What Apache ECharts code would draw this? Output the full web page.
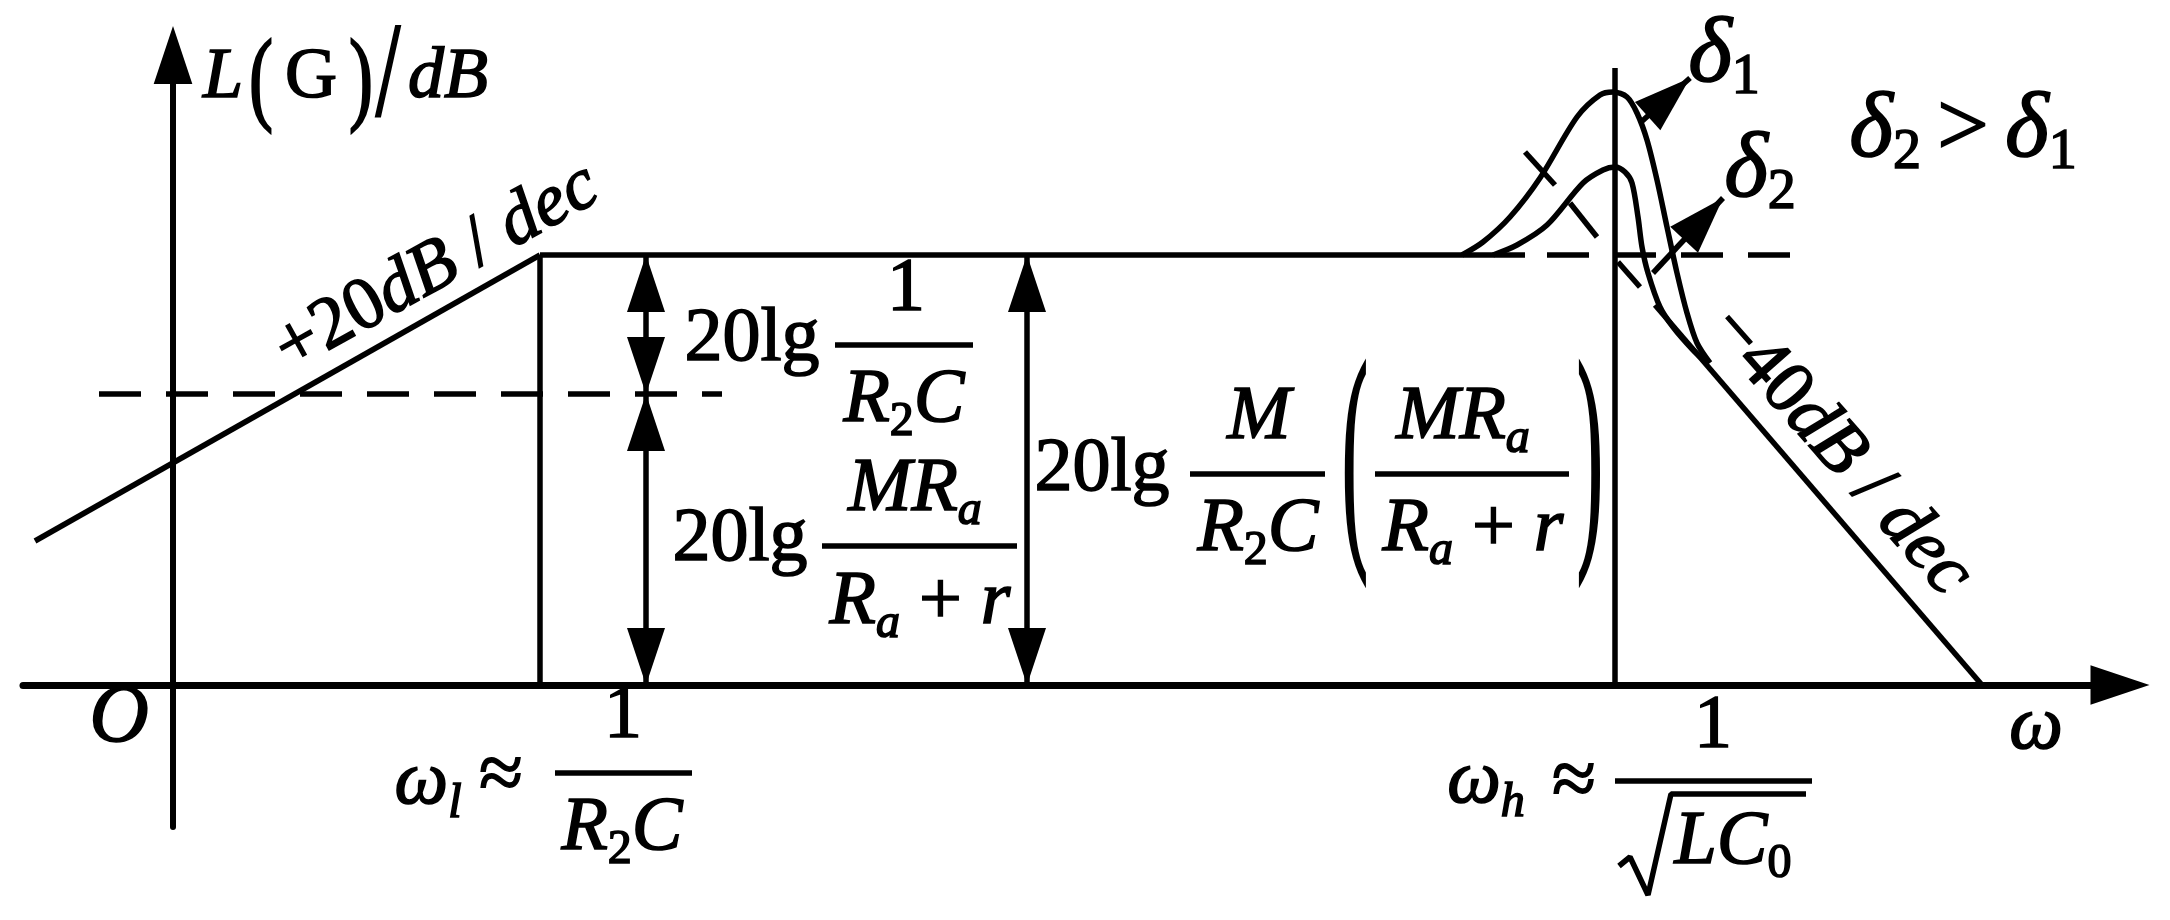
<!DOCTYPE html>
<html>
<head>
<meta charset="utf-8">
<script src="https://cdn.jsdelivr.net/npm/echarts@6/dist/echarts.min.js"></script>
<style>
  html, body { margin: 0; padding: 0; background: #fff; }
  #main { width: 2170px; height: 920px; }
</style>
</head>
<body>
<div id="main"></div>
<script>
// diagram units: x = frequency position (O at 0), y = gain level (omega axis at 0)
var lowSlope = [[-138, 144], [367, 430]];
var passBand = [[367, 430], [1352, 430]];
var omegaLLine = [[367, 0], [367, 430]];
var omegaHLine = [[1442, 0], [1442, 617]];
var lowLevel = [[-74, 291], [549, 291]];
var highLevel = [[1374, 430], [1617, 430]];
var highSlopeDash = [[1445, 423], [1467, 398]];
var highSlope = [[1482, 380], [1809, 0]];

// resonance curves near omega_h
var delta1 = [[1289, 430], [1310, 443], [1337, 468], [1367, 507], [1404, 568], [1427, 590], [1440, 593],
  [1454, 588], [1464, 572], [1474, 545], [1484, 505], [1494, 458], [1504, 412], [1514, 372], [1524, 342], [1537, 322]];
var delta2 = [[1320, 430], [1344, 440], [1374, 460], [1410, 502], [1430, 515], [1442, 518], [1452, 513],
  [1459, 502], [1465, 468], [1469, 438], [1475, 412], [1487, 378], [1500, 358], [1520, 335], [1534, 322]];
var tick1 = [[1352, 533], [1382, 500]];
var tick2 = [[1397, 482], [1424, 448]];

// arrows: x1, y1, x2 (tip), y2 (tip), heads
var dimArrows = [[473, 430, 473, 291, 2], [473, 291, 473, 0, 2], [854, 430, 854, 0, 2]];
var deltaArrows = [[1467, 562, 1517, 607, 1], [1480, 412, 1550, 487, 1]];

var FONT = 'Liberation Serif';
var LW = 5.5;

function rs(size, italic, extra) {
  return Object.assign({
    fontFamily: FONT, fontSize: size, fontStyle: italic ? 'italic' : 'normal',
    lineHeight: 90, verticalAlign: 'middle', fill: '#000', stroke: '#000', lineWidth: 1.6
  }, extra || {});
}

var RICH = {
  r: rs(76, false),
  i: rs(76, true),
  ap: rs(80, false),
  gt: rs(92, false, { lineHeight: 100, padding: [0, 16, 0, 16] }),
  s: rs(48, false, { lineHeight: 38, verticalAlign: 'bottom' }),
  si: rs(48, true, { lineHeight: 38, verticalAlign: 'bottom' }),
  g: rs(94, true, { lineHeight: 100 }),
  gs: rs(56, false, { lineHeight: 46, verticalAlign: 'bottom' }),
  lr: rs(72, false),
  li: rs(72, true),
  o: rs(82, true),
  t: rs(74, false),
  ti: rs(74, true)
};

function txt(x, y, text, o) {
  o = o || {};
  return {
    type: 'text', x: x, y: y, rotation: o.rot || 0, scaleX: o.sx || 1, scaleY: o.sy || 1,
    silent: true, z: 10,
    style: { text: text, rich: RICH, fill: '#000', align: 'center', verticalAlign: 'middle', fontFamily: FONT, fontSize: 76 }
  };
}

function bar(x1, x2, y) {
  return { type: 'line', silent: true, z: 10, shape: { x1: x1, y1: y, x2: x2, y2: y }, style: { stroke: '#000', lineWidth: LW } };
}

var labels = [
  // L(G)/dB
  txt(223, 78, '{li|L}'),
  txt(261, 84, '{lr|(}', { sy: 1.45 }),
  txt(311, 78, '{lr|G}'),
  txt(361, 84, '{lr|)}', { sy: 1.45 }),
  txt(388, 80, '{lr|/}', { sx: 1.2, sy: 1.85 }),
  txt(448, 78, '{li|dB}'),
  txt(119, 719, '{o|O}'),
  txt(2036, 728, '{i|ω}'),

  // slopes
  txt(437, 268, '{t|+20}{ti|dB}{t| / }{ti|dec}', { rot: 0.506 }),
  txt(1840, 452, '{t|−40}{ti|dB}{t| / }{ti|dec}', { rot: -0.846 }),

  // 20lg 1/(R2C)
  txt(752, 340, '{r|20lg}'),
  bar(835, 973, 345),
  txt(906, 290, '{r|1}'),
  txt(904, 401, '{i|R}{s|2}{i|C}'),

  // 20lg MRa/(Ra+r)
  txt(740, 540, '{r|20lg}'),
  bar(822, 1017, 546),
  txt(915, 490, '{i|MR}{si|a}'),
  txt(920, 603, '{i|R}{si|a}{r| + }{i|r}'),

  // 20lg M/(R2C) (MRa/(Ra+r))
  txt(1102, 470, '{r|20lg}'),
  bar(1190, 1325, 474),
  txt(1259, 418, '{i|M}'),
  txt(1258, 530, '{i|R}{s|2}{i|C}'),
  txt(1355, 468, '{r|(}', { sy: 3.2 }),
  bar(1375, 1569, 474),
  txt(1463, 418, '{i|MR}{si|a}'),
  txt(1473, 530, '{i|R}{si|a}{r| + }{i|r}'),
  txt(1590, 468, '{r|)}', { sy: 3.2 }),

  // omega_l
  txt(428, 783, '{i|ω}{si|l}'),
  txt(501, 778, '{ap|≈}'),
  bar(555, 692, 773),
  txt(623, 717, '{r|1}'),
  txt(622, 829, '{i|R}{s|2}{i|C}'),

  // omega_h
  txt(1486, 782, '{i|ω}{si|h}'),
  txt(1574, 784, '{ap|≈}'),
  bar(1615, 1812, 781),
  txt(1713, 727, '{r|1}'),
  {
    type: 'polyline', silent: true, z: 10,
    shape: { points: [[1619, 866], [1630, 857], [1648, 895], [1671, 794], [1806, 794]] },
    style: { stroke: '#000', fill: 'none', lineWidth: LW, lineJoin: 'bevel' }
  },
  txt(1733, 843, '{i|LC}{s|0}'),

  // damping labels
  txt(1724, 56, '{g|δ}{gs|1}'),
  txt(1760, 171, '{g|δ}{gs|2}'),
  txt(1963, 131, '{g|δ}{gs|2}{gt|>}{g|δ}{gs|1}')
];

function seg(data, dashed, smooth) {
  return {
    type: 'line', data: data, symbol: 'none', silent: true, clip: false, smooth: smooth || false,
    lineStyle: { color: '#000', width: LW, type: dashed ? [42, 25] : 'solid', cap: 'butt' }
  };
}

function arrowHead(tip, from, len, hw) {
  var dx = from[0] - tip[0], dy = from[1] - tip[1];
  var d = Math.sqrt(dx * dx + dy * dy);
  var ux = dx / d, uy = dy / d;
  var bx = tip[0] + ux * len, by = tip[1] + uy * len;
  return {
    type: 'polygon',
    shape: { points: [tip, [bx - uy * hw, by + ux * hw], [bx + uy * hw, by - ux * hw]] },
    style: { fill: '#000' }
  };
}

function renderArrow(params, api) {
  var a = api.coord([api.value(0), api.value(1)]);
  var b = api.coord([api.value(2), api.value(3)]);
  var kids = [{ type: 'line', shape: { x1: a[0], y1: a[1], x2: b[0], y2: b[1] }, style: { stroke: '#000', lineWidth: LW } }];
  kids.push(arrowHead(b, a, 57, 19));
  if (api.value(4) === 2) kids.push(arrowHead(a, b, 57, 19));
  return { type: 'group', children: kids };
}

var myChart = echarts.init(document.getElementById('main'));

var option = {
  backgroundColor: '#fff',
  animation: false,
  grid: { left: 23, right: 50, top: 55, bottom: 93 },
  xAxis: {
    type: 'value', min: -150, max: 1947,
    axisLine: {
      show: true, onZero: true,
      symbol: ['none', 'path://M0,0L20,60L-20,60Z'], symbolSize: [40, 59],
      lineStyle: { color: '#000', width: 7 }
    },
    axisTick: { show: false }, axisLabel: { show: false }, splitLine: { show: false }
  },
  yAxis: {
    type: 'value', min: -142, max: 630,
    axisLine: {
      show: true, onZero: true,
      symbol: ['none', 'path://M0,0L20,60L-20,60Z'], symbolSize: [40, 58],
      lineStyle: { color: '#000', width: 6 }
    },
    axisTick: { show: false }, axisLabel: { show: false }, splitLine: { show: false }
  },
  series: [
    seg(lowSlope), seg(passBand), seg(omegaLLine), seg(omegaHLine),
    seg(lowLevel, true), seg(highLevel, true),
    seg(highSlopeDash), seg(highSlope),
    seg(delta1, false, 0.3), seg(delta2, false, 0.3),
    seg(tick1), seg(tick2),
    {
      type: 'custom', coordinateSystem: 'cartesian2d', silent: true, clip: false,
      encode: { x: [0, 2], y: [1, 3] },
      data: dimArrows.concat(deltaArrows),
      renderItem: renderArrow
    }
  ],
  graphic: labels
};

myChart.setOption(option);
</script>
</body>
</html>
